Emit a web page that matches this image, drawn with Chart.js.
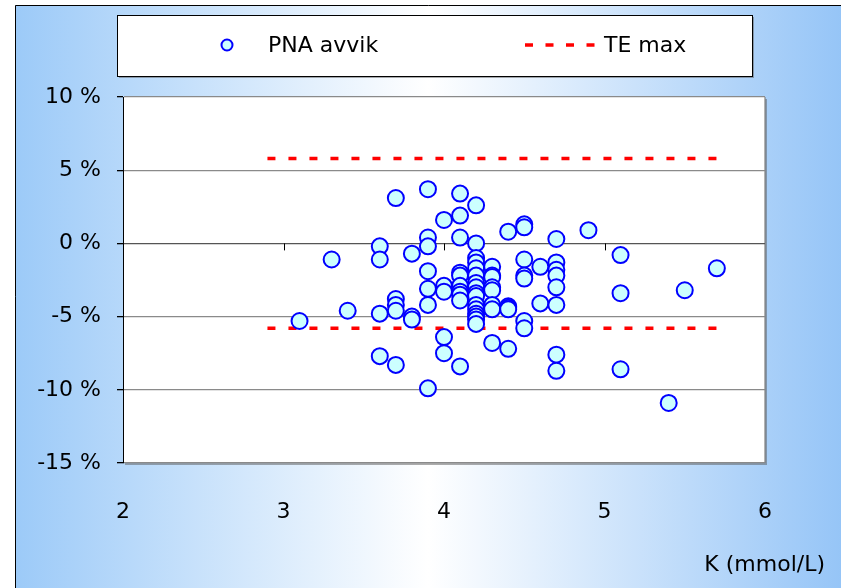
<!DOCTYPE html>
<html>
<head>
<meta charset="utf-8">
<title>PNA avvik – K (mmol/L)</title>
<script src="https://cdn.jsdelivr.net/npm/chart.js@4/dist/chart.umd.min.js"></script>
<style>
  html, body { margin: 0; padding: 0; background: #ffffff; }
  #wrap { width: 841px; height: 588px; }
</style>
</head>
<body>
<div id="wrap"><canvas id="chart" width="841" height="588"></canvas></div>
<script>
// Potassium concentration (mmol/L) for each measurement
const kValues = [
  3.1,
  3.3,
  3.4,
  3.6, 3.6, 3.6, 3.6,
  3.7, 3.7, 3.7, 3.7, 3.7,
  3.8, 3.8, 3.8,
  3.9, 3.9, 3.9, 3.9, 3.9, 3.9, 3.9,
  4.0, 4.0, 4.0, 4.0, 4.0,
  4.1, 4.1, 4.1, 4.1, 4.1, 4.1, 4.1, 4.1, 4.1, 4.1,
  4.2, 4.2, 4.2, 4.2, 4.2, 4.2, 4.2, 4.2, 4.2, 4.2, 4.2, 4.2, 4.2, 4.2, 4.2, 4.2,
  4.3, 4.3, 4.3, 4.3, 4.3, 4.3, 4.3, 4.3,
  4.4, 4.4, 4.4, 4.4, 4.4,
  4.5, 4.5, 4.5, 4.5, 4.5, 4.5, 4.5,
  4.6, 4.6,
  4.7, 4.7, 4.7, 4.7, 4.7, 4.7, 4.7, 4.7,
  4.9,
  5.1, 5.1, 5.1,
  5.4,
  5.5,
  5.7
];

// PNA deviation (%) for the same measurements, in the same order
const deviations = [
  -5.3,
  -1.1,
  -4.6,
  -0.2, -1.1, -4.8, -7.7,
  3.1, -3.8, -4.2, -4.6, -8.3,
  -0.7, -5.0, -5.2,
  3.7, 0.4, -0.2, -1.9, -3.1, -4.2, -9.9,
  1.6, -2.9, -3.3, -6.4, -7.5,
  3.4, 1.9, 0.4, -2.0, -2.2, -2.9, -3.3, -3.5, -3.9, -8.4,
  2.6, 0.0, -1.0, -1.3, -1.7, -2.2, -2.7, -3.0, -3.4, -3.6, -4.2, -4.5, -4.8, -5.0, -5.2, -5.5,
  -1.6, -2.2, -2.3, -3.0, -3.2, -4.2, -4.5, -6.8,
  0.8, -4.3, -4.4, -4.5, -7.2,
  1.3, 1.1, -1.1, -2.2, -2.4, -5.3, -5.8,
  -1.6, -4.1,
  0.3, -1.3, -1.8, -2.2, -3.0, -4.2, -7.6, -8.7,
  0.9,
  -0.8, -3.4, -8.6,
  -10.9,
  -3.2,
  -1.7
];

// Total error limit (±%) and the K range it is drawn over
const teMax = 5.8;
const teRange = [2.9, 5.7];

// Axis ticks
const xTicks = [2, 3, 4, 5, 6];
const yTicks = [10, 5, 0, -5, -10, -15];

const seriesLabels = ['PNA avvik', 'TE max'];
const xAxisTitle = 'K (mmol/L)';

const FONT = 'DejaVu Sans';
Chart.defaults.font.family = FONT;
Chart.defaults.font.size = 22;
Chart.defaults.color = '#000000';

const scatterPoints = kValues.map((k, i) => ({ x: k, y: deviations[i] }));
const upperLimit = teRange.map(x => ({ x: x, y: teMax }));
const lowerLimit = teRange.map(x => ({ x: x, y: -teMax }));

// Gradient backdrop, framed plot area and boxed legend
const decorations = {
  id: 'decorations',
  beforeDraw(chart) {
    const { ctx, width, height, chartArea: a } = chart;
    ctx.save();
    ctx.fillStyle = '#ffffff';
    ctx.fillRect(0, 0, width, height);

    const g = ctx.createLinearGradient(15, 0, width, 0);
    g.addColorStop(0, '#9ccaf8');
    g.addColorStop(0.5, '#ffffff');
    g.addColorStop(1, '#96c5f7');
    ctx.fillStyle = g;
    ctx.fillRect(15, 5, width - 15, height - 5);

    ctx.strokeStyle = '#000000';
    ctx.lineWidth = 1;
    ctx.beginPath();
    ctx.moveTo(15.5, height);
    ctx.lineTo(15.5, 5.5);
    ctx.lineTo(width, 5.5);
    ctx.stroke();

    // plot area with a soft drop shadow
    ctx.fillStyle = 'rgba(90,90,90,0.5)';
    ctx.fillRect(a.left + 2, a.top + 2, a.right - a.left, a.bottom - a.top);
    ctx.fillStyle = '#ffffff';
    ctx.fillRect(a.left, a.top, a.right - a.left, a.bottom - a.top);
    ctx.strokeStyle = '#808080';
    ctx.lineWidth = 1.2;
    ctx.beginPath();
    ctx.moveTo(a.right, a.top);
    ctx.lineTo(a.right, a.bottom);
    ctx.stroke();

    // legend box
    const lx = 117, ly = 15, lw = 635, lh = 61;
    ctx.fillStyle = 'rgba(90,90,90,0.5)';
    ctx.fillRect(lx + 2, ly + 2, lw, lh);
    ctx.fillStyle = '#ffffff';
    ctx.fillRect(lx, ly, lw, lh);
    ctx.strokeStyle = '#000000';
    ctx.lineWidth = 1;
    ctx.strokeRect(lx + 0.5, ly + 0.5, lw, lh);

    const ds0 = chart.data.datasets[0];
    const ds1 = chart.data.datasets[1];
    const my = 45;
    ctx.beginPath();
    ctx.arc(227, my, 5.5, 0, Math.PI * 2);
    ctx.fillStyle = ds0.pointBackgroundColor;
    ctx.fill();
    ctx.lineWidth = 2;
    ctx.strokeStyle = ds0.pointBorderColor;
    ctx.stroke();

    ctx.beginPath();
    ctx.setLineDash([8, 12.5]);
    ctx.lineWidth = ds1.borderWidth;
    ctx.strokeStyle = ds1.borderColor;
    ctx.moveTo(525, my);
    ctx.lineTo(597, my);
    ctx.stroke();
    ctx.setLineDash([]);

    ctx.fillStyle = '#000000';
    ctx.font = '22px "' + FONT + '"';
    ctx.textBaseline = 'middle';
    ctx.textAlign = 'left';
    ctx.fillText(seriesLabels[0], 268, my + 1);
    ctx.fillText(seriesLabels[1], 604, my + 1);

    // x-axis title at the lower right
    ctx.textAlign = 'right';
    ctx.fillText(xAxisTitle, width - 16, 565);
    ctx.restore();
  },
  beforeDatasetsDraw(chart) {
    // x axis crosses at 0 %: tick marks hang below the zero line
    const { ctx, scales: { x, y } } = chart;
    const y0 = y.getPixelForValue(0);
    ctx.save();
    ctx.strokeStyle = '#000000';
    ctx.lineWidth = 1;
    xTicks.forEach(v => {
      if (v <= x.min || v >= x.max) return;
      const px = Math.round(x.getPixelForValue(v)) + 0.5;
      ctx.beginPath();
      ctx.moveTo(px, y0);
      ctx.lineTo(px, y0 + 7);
      ctx.stroke();
    });
    ctx.restore();
  }
};

new Chart(document.getElementById('chart'), {
  type: 'scatter',
  data: {
    datasets: [
      {
        label: seriesLabels[0],
        data: scatterPoints,
        pointRadius: 8,
        pointBorderWidth: 2,
        pointBackgroundColor: '#ccffff',
        pointBorderColor: '#0000ff',
        showLine: false
      },
      {
        label: seriesLabels[1],
        type: 'line',
        data: upperLimit,
        borderColor: '#ff0000',
        borderWidth: 3.5,
        borderDash: [8, 13],
        pointRadius: 0,
        fill: false
      },
      {
        label: seriesLabels[1],
        type: 'line',
        data: lowerLimit,
        borderColor: '#ff0000',
        borderWidth: 3.5,
        borderDash: [8, 13],
        pointRadius: 0,
        fill: false
      }
    ]
  },
  options: {
    responsive: false,
    animation: false,
    devicePixelRatio: 1,
    events: [],
    layout: { padding: { top: 97, right: 76, left: 0, bottom: 0 } },
    plugins: {
      legend: { display: false },
      title: { display: false },
      tooltip: { enabled: false }
    },
    scales: {
      x: {
        type: 'linear',
        min: xTicks[0],
        max: xTicks[xTicks.length - 1],
        afterBuildTicks(scale) { scale.ticks = xTicks.map(v => ({ value: v })); },
        afterFit(scale) { scale.height = 125; },
        grid: { display: false, drawTicks: false },
        border: { display: false },
        ticks: { padding: 36, maxRotation: 0, font: { size: 22 } }
      },
      y: {
        type: 'linear',
        min: yTicks[yTicks.length - 1],
        max: yTicks[0],
        afterBuildTicks(scale) { scale.ticks = yTicks.slice().reverse().map(v => ({ value: v })); },
        afterFit(scale) { scale.width = 123; },
        grid: {
          drawTicks: true,
          tickLength: 6,
          tickColor: '#000000',
          lineWidth: 1.3,
          color: ctx => (ctx.tick && ctx.tick.value === 0 ? '#555555' : '#8a8a8a')
        },
        border: { display: true, color: '#000000', width: 1 },
        ticks: {
          padding: 16,
          font: { size: 22 },
          callback: v => v + ' %'
        }
      }
    }
  },
  plugins: [decorations]
});
</script>
</body>
</html>
